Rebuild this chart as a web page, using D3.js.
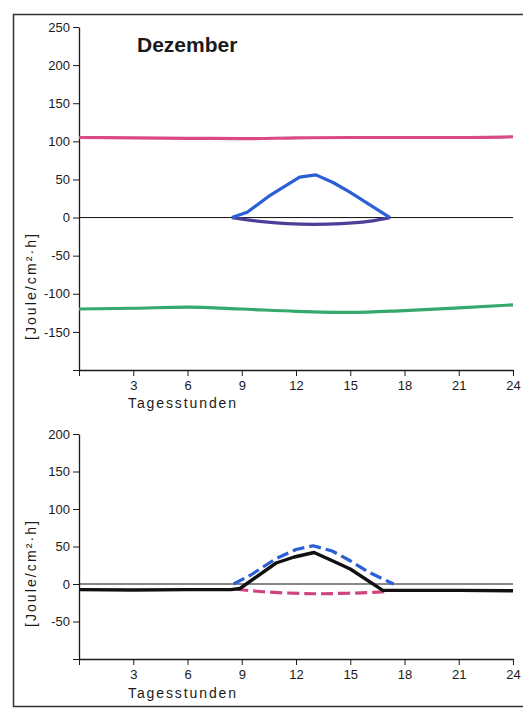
<!DOCTYPE html>
<html>
<head>
<meta charset="utf-8">
<script src="https://d3js.org/d3.v7.min.js"></script>
<style>
  body { margin: 0; background: #fff; overflow: hidden; }
  svg { display: block; }
  text { font-family: "Liberation Sans", Arial, sans-serif; fill: #1a1a1a; }
  .tick line, .domain { stroke: #1a1a1a; }
</style>
</head>
<body>
<div id="chart"></div>
<script>
// tick values
var xTicks = [0, 3, 6, 9, 12, 15, 18, 21, 24];
var yTicksTop = [-200, -150, -100, -50, 0, 50, 100, 150, 200, 250];
var yTicksBottom = [-100, -50, 0, 50, 100, 150, 200];

// top panel data
var hoursFlat = [0, 3, 6, 9, 12, 15, 18, 21, 24];
var pinkTop = [105, 104.5, 104, 103.5, 104.5, 105, 105, 105, 106];
var greenTop = [-120, -119, -117.5, -120, -123, -124.5, -122, -118.5, -114.5];
var hoursBlueTop = [8.45, 9.3, 10.5, 12.2, 13.1, 14.05, 15, 16, 17.2];
var blueTop = [0, 7, 28, 53, 56, 46, 33, 18, 0];
var hoursPurpleTop = [8.45, 10, 11.5, 13, 14.5, 16, 17.2];
var purpleTop = [0, -5, -8, -9, -8, -5, 0];

// bottom panel data
var hoursBlack = [0, 3, 6, 8.4, 8.9, 10.9, 11.9, 13, 14.1, 15, 16.8, 18, 21, 24];
var blackBottom = [-7.5, -8, -7.5, -7.5, -6, 28, 36, 42, 30, 20, -8.5, -8.5, -8.5, -9];
var hoursBlueBottom = [8.55, 9.5, 10.9, 12, 12.95, 14, 15, 16, 17.4];
var blueBottom = [0, 12, 34, 46, 51, 44, 31, 16, 0];
var hoursPinkBottom = [8.7, 10, 11.5, 13, 14.5, 16, 16.9];
var pinkBottom = [-7, -10, -12, -13, -12.5, -11.5, -10];

var svgWidth = 523;
var svgHeight = 710;

var svg = d3.select("#chart")
  .append("svg")
  .attr("width", svgWidth)
  .attr("height", svgHeight);

// outer frame, open on the right (it runs off the picture)
svg.append("path")
  .attr("d", "M523,14.5 H13.5 V706.5 H523")
  .attr("fill", "none")
  .attr("stroke", "#333")
  .attr("stroke-width", 1.5);

var xScale = d3.scaleLinear().domain([0, 24]).range([79, 513]);

function drawPanel(yDomain, yRange, yTicks, labelY, labelCenter) {
  var y = d3.scaleLinear().domain(yDomain).range(yRange);

  var bottomAxis = d3.axisBottom(xScale)
    .tickValues(xTicks)
    .tickSize(6)
    .tickSizeOuter(0)
    .tickPadding(5)
    .tickFormat(d => d === 0 ? "" : d);

  var leftAxis = d3.axisLeft(y)
    .tickValues(yTicks)
    .tickSize(6)
    .tickSizeOuter(0)
    .tickPadding(3)
    .tickFormat(d => d === yDomain[0] ? "" : String(d));

  var gx = svg.append("g")
    .attr("transform", `translate(0, ${yRange[0]})`)
    .call(bottomAxis);
  gx.selectAll("text").attr("font-size", "13px");
  gx.select(".domain").attr("stroke-width", 1.3);

  var gy = svg.append("g")
    .attr("transform", `translate(${xScale(0)}, 0)`)
    .call(leftAxis);
  gy.selectAll("text").attr("font-size", "13px");
  gy.select(".domain").attr("stroke-width", 1.3);

  // zero line
  svg.append("line")
    .attr("x1", xScale(0))
    .attr("x2", xScale(24))
    .attr("y1", y(0))
    .attr("y2", y(0))
    .attr("stroke", "#111")
    .attr("stroke-width", 1);

  // axis labels
  svg.append("text")
    .attr("x", 128)
    .attr("y", labelY)
    .attr("font-size", "14px")
    .attr("letter-spacing", "1.9px")
    .text("Tagesstunden");

  svg.append("text")
    .attr("transform", `translate(36, ${labelCenter}) rotate(-90)`)
    .attr("text-anchor", "middle")
    .attr("font-size", "14px")
    .attr("letter-spacing", "2.1px")
    .text("[Joule/cm²·h]");

  return y;
}

function addLine(y, hours, values, color, width, dash, curve) {
  var pts = hours.map((h, i) => [h, values[i]]);
  var line = d3.line()
    .x(d => xScale(d[0]))
    .y(d => y(d[1]))
    .curve(curve || d3.curveMonotoneX);
  svg.append("path")
    .datum(pts)
    .attr("d", line)
    .attr("fill", "none")
    .attr("stroke", color)
    .attr("stroke-width", width)
    .attr("stroke-linejoin", "round")
    .attr("stroke-dasharray", dash || null);
}

// top panel
var yTop = drawPanel([-200, 250], [370, 27], yTicksTop, 408, 286);

svg.append("text")
  .attr("x", 137)
  .attr("y", 52)
  .attr("font-size", "21px")
  .attr("font-weight", "bold")
  .text("Dezember");

addLine(yTop, hoursFlat, pinkTop, "#d94a86", 3.2);
addLine(yTop, hoursFlat, greenTop, "#35a86e", 3.2);
addLine(yTop, hoursPurpleTop, purpleTop, "#4c3f98", 3.2, null, d3.curveNatural);
addLine(yTop, hoursBlueTop, blueTop, "#2b5fd6", 3.2, null, d3.curveLinear);

// bottom panel
var yBottom = drawPanel([-100, 200], [659, 434], yTicksBottom, 698, 573);

addLine(yBottom, hoursPinkBottom, pinkBottom, "#cf447f", 3.2, "12,5", d3.curveNatural);
addLine(yBottom, hoursBlueBottom, blueBottom, "#2b5fd6", 3.2, "12,5", d3.curveLinear);
addLine(yBottom, hoursBlack, blackBottom, "#111", 3.4, null, d3.curveLinear);
</script>
</body>
</html>
